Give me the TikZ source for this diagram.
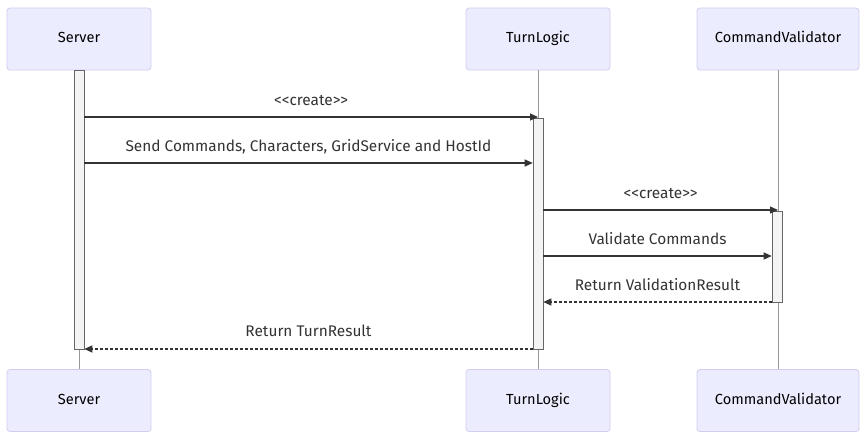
\documentclass[tikz,border=0pt]{standalone}
\usepackage{fontspec}
\setmainfont{Fira Sans}
\usetikzlibrary{positioning,arrows.meta,calc}

\definecolor{actorfill}{HTML}{ECECFF}
\definecolor{actorline}{HTML}{D4CCF0}
\definecolor{txt}{HTML}{333333}
\definecolor{lifegray}{HTML}{999999}
\definecolor{actfill}{HTML}{F4F4F4}
\definecolor{actline}{HTML}{666666}

\begin{document}
\begin{tikzpicture}[
    x=1pt, y=-1pt,
    actor/.style={rectangle, rounded corners=3pt, draw=actorline, fill=actorfill, line width=0.8pt,
        minimum height=62pt, text=black, font=\fontsize{14.6}{16}\selectfont, inner sep=0pt,
        text height=10.5pt, text depth=3pt},
    lifeline/.style={draw=lifegray, line width=1pt},
    activation/.style={rectangle, draw=actline, fill=actfill, line width=0.6pt, minimum width=10pt, inner sep=0pt},
    msg/.style={draw=txt, line width=1.2pt, -{Triangle[length=8pt,width=7pt]}},
    reply/.style={msg, dash pattern=on 3pt off 2pt},
    label/.style={text=txt, font=\fontsize{15.4}{17}\selectfont, inner sep=0pt,
        text height=11pt, text depth=3pt}
]
    \useasboundingbox (0,0) rectangle (864,439);

    % participants
    \node[actor, minimum width=144pt] (server) at (79,39) {Server};
    \node[actor, minimum width=144pt] (logic) at (538,39) {TurnLogic};
    \node[actor, minimum width=162pt] (valid) at (778,39) {CommandValidator};

    \node[actor, minimum width=144pt] (serverB) at (79,400.5) {Server};
    \node[actor, minimum width=144pt] (logicB) at (538,400.5) {TurnLogic};
    \node[actor, minimum width=162pt] (validB) at (778,400.5) {CommandValidator};

    % lifelines
    \draw[lifeline] (server.south) -- (serverB.north);
    \draw[lifeline] (logic.south) -- (logicB.north);
    \draw[lifeline] (valid.south) -- (validB.north);

    % activations
    \node[activation, minimum height=279pt] (serverAct) at (79,209.5) {};
    \node[activation, minimum height=231pt] (logicAct) at (538,233.5) {};
    \node[activation, minimum height=91pt] (validAct) at (777,256.5) {};

    % message ends
    \coordinate (c1s) at (serverAct.east |- 0,117);
    \coordinate (c1e) at (logic.south |- 0,117);
    \coordinate (c2s) at (serverAct.east |- 0,163);
    \coordinate (c2e) at (logicAct.west |- 0,163);
    \coordinate (c3s) at (logicAct.east |- 0,210);
    \coordinate (c3e) at (valid.south |- 0,210);
    \coordinate (c4s) at (logicAct.east |- 0,256);
    \coordinate (c4e) at (validAct.west |- 0,256);
    \coordinate (c5s) at (validAct.west |- 0,302);
    \coordinate (c5e) at (logicAct.east |- 0,302);
    \coordinate (c6s) at (logicAct.west |- 0,349);
    \coordinate (c6e) at (serverAct.east |- 0,349);

    % messages
    \draw[msg] (c1s) -- (c1e);
    \node[label] (l1) at ($(c1s)!0.5!(c1e)+(0,-16)$) {{<}{<}create{>}{>}};
    \draw[msg] (c2s) -- (c2e);
    \node[label] (l2) at ($(c2s)!0.5!(c2e)+(0,-16)$) {Send Commands, Characters, GridService and HostId};
    \draw[msg] (c3s) -- (c3e);
    \node[label] (l3) at ($(c3s)!0.5!(c3e)+(0,-16)$) {{<}{<}create{>}{>}};
    \draw[msg] (c4s) -- (c4e);
    \node[label] (l4) at ($(c4s)!0.5!(c4e)+(0,-16)$) {Validate Commands};
    \draw[reply] (c5s) -- (c5e);
    \node[label] (l5) at ($(c5s)!0.5!(c5e)+(0,-15.5)$) {Return ValidationResult};
    \draw[reply] (c6s) -- (c6e);
    \node[label] (l6) at ($(c6s)!0.5!(c6e)+(0,-17)$) {Return TurnResult};
\end{tikzpicture}
\end{document}
